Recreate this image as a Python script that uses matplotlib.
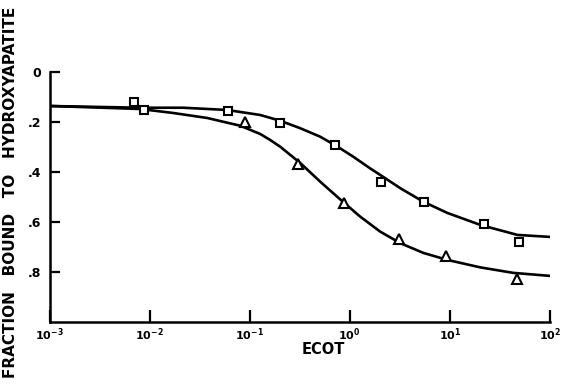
import numpy as np
import matplotlib.pyplot as plt

# measured points (ECOT, fraction bound)
sq_x = [0.0070, 0.0088, 0.061, 0.20, 0.72, 2.07, 5.56, 22.0, 49.5]
sq_y = [0.120, 0.152, 0.156, 0.204, 0.292, 0.440, 0.520, 0.608, 0.680]
tri_x = [0.090, 0.305, 0.88, 3.13, 9.2, 47.3]
tri_y = [0.200, 0.368, 0.524, 0.668, 0.736, 0.828]

# fitted curves (log10 ECOT, fraction)
upper_logx = [-3.0, -2.095, -1.665, -1.225, -0.895, -0.695, -0.495, -0.295, -0.125,
              0.035, 0.205, 0.305, 0.505, 0.735, 0.975, 1.305, 1.675, 2.0]
upper_y = [0.136, 0.143, 0.143, 0.152, 0.172, 0.195, 0.225, 0.259, 0.298,
           0.339, 0.386, 0.412, 0.465, 0.519, 0.564, 0.612, 0.652, 0.660]
lower_logx = [-3.0, -2.095, -1.765, -1.425, -1.095, -0.895, -0.795, -0.695, -0.495,
              -0.295, -0.095, 0.105, 0.305, 0.505, 0.735, 0.975, 1.305, 1.635, 2.0]
lower_y = [0.136, 0.148, 0.164, 0.184, 0.215, 0.248, 0.272, 0.299, 0.364,
           0.439, 0.510, 0.579, 0.639, 0.685, 0.724, 0.752, 0.782, 0.804, 0.816]

xticks = [1e-3, 1e-2, 1e-1, 1e0, 1e1, 1e2]
xtick_labels = [r'$\mathbf{10^{-3}}$', r'$\mathbf{10^{-2}}$', r'$\mathbf{10^{-1}}$',
                r'$\mathbf{10^{0}}$', r'$\mathbf{10^{1}}$', r'$\mathbf{10^{2}}$']
yticks = [0, 0.2, 0.4, 0.6, 0.8]
ytick_labels = ['0', '.2', '.4', '.6', '.8']

plt.rcParams['font.family'] = 'DejaVu Sans'
plt.rcParams['font.weight'] = 'bold'

fig = plt.figure(figsize=(5.66, 3.85), dpi=100)
ax = fig.add_axes([0.0875, 0.164, 0.884, 0.649])

ax.plot(10 ** np.array(upper_logx), upper_y, color='black', lw=1.9,
        solid_joinstyle='round')
ax.plot(10 ** np.array(lower_logx), lower_y, color='black', lw=1.9,
        solid_joinstyle='round')
ax.plot(sq_x, sq_y, linestyle='none', marker='s', ms=6, mfc='white',
        mec='black', mew=1.5)
ax.plot(tri_x, tri_y, linestyle='none', marker='^', ms=6.5, mfc='white',
        mec='black', mew=1.5)

ax.set_xscale('log')
ax.set_xlim(1e-3, 1e2)
ax.set_ylim(1.0, 0.0)
ax.set_xticks(xticks)
ax.set_xticklabels(xtick_labels, fontsize=8)
ax.minorticks_off()
ax.set_yticks(yticks)
ax.set_yticklabels(ytick_labels, fontsize=9, fontweight='bold')
ax.tick_params(axis='y', direction='in', length=7, width=1.6, pad=6)
ax.tick_params(axis='x', direction='in', length=9, width=1.6, pad=3)

for s in ['top', 'right']:
    ax.spines[s].set_visible(False)
ax.spines['left'].set_bounds(0, 1.0)
for s in ['left', 'bottom']:
    ax.spines[s].set_linewidth(1.8)

ax.set_xlabel('ECOT', fontsize=10.5, fontweight='bold')
ax.xaxis.set_label_coords(0.547, -0.082)
fig.text(0.019, 0.5, 'FRACTION   BOUND   TO   HYDROXYAPATITE', rotation=90,
         ha='center', va='center', fontsize=11, fontweight='bold')

fig.savefig('out.png', dpi=100)
